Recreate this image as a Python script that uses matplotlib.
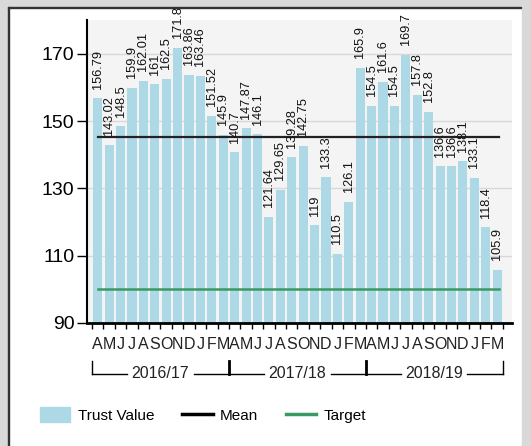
import matplotlib
matplotlib.use("Agg")
import matplotlib.pyplot as plt
import matplotlib.transforms as mtransforms
from matplotlib.patches import Patch, Rectangle
from matplotlib.lines import Line2D
import numpy as np

plt.rcParams['font.family'] = ['Liberation Sans', 'DejaVu Sans']

months = list("AMJJASONDJFM") * 3
years = ["2016/17", "2017/18", "2018/19"]
values = [156.79, 143.02, 148.5, 159.9, 162.01, 161.0, 162.5, 171.8, 163.86, 163.46, 151.52, 145.9,
          140.7, 147.87, 146.1, 121.64, 129.65, 139.28, 142.75, 119, 133.3, 110.5, 126.1, 165.9,
          154.5, 161.6, 154.5, 169.7, 157.8, 152.8, 136.6, 136.6, 138.1, 133.1, 118.4, 105.9]
target = 100
mean = np.mean(values)

W, H = 531, 446
fig = plt.figure(figsize=(W / 100, H / 100), dpi=100)

# panel frame like the original screenshot
def px_rect(x0, y0, x1, y1, color):
    fig.patches.append(Rectangle((x0 / W, 1 - y1 / H), (x1 - x0) / W, (y1 - y0) / H,
                                 transform=fig.transFigure, color=color, zorder=0))

px_rect(0, 0, W, 6, '#d9d9d9')
px_rect(0, 0, 7, H, '#d9d9d9')
px_rect(522, 0, W, H, '#d9d9d9')
px_rect(8, 7, 521, 8.2, '#333333')
px_rect(8, 7, 9.2, H, '#333333')

ax = fig.add_axes([87 / W, 1 - 323 / H, (512 - 87) / W, (323 - 20) / H])
ax.set_facecolor('#f4f4f4')

x = np.arange(len(values))
ax.bar(x, [v - 90 for v in values], bottom=90, width=0.8, color='#add8e6', zorder=2)
ax.plot([0, len(values) - 0.8], [mean, mean], color='#222222', lw=1.6, zorder=3)
ax.plot([0, len(values) - 0.8], [target, target], color='#3a9a64', lw=1.8, zorder=3)

for xi, v in zip(x, values):
    ax.annotate(f"{v:g}", (xi, v), xytext=(0, 7), textcoords='offset points',
                rotation=90, ha='center', va='bottom', fontsize=9.2, color='#111111',
                annotation_clip=False, zorder=4)

ax.set_ylim(90, 180.1)
ax.set_xlim(-0.94, 36.3)
ax.set_yticks([90, 110, 130, 150, 170])
ax.grid(axis='y', color='#d8d8d8', lw=1, zorder=1)
ax.set_axisbelow(True)

ax.set_xticks(x)
ax.set_xticklabels(months, fontsize=11.5, color='#222222')
ax.set_xticks(np.arange(-0.5, len(values) + 0.5, 1), minor=True)
ax.tick_params(axis='x', which='major', length=0, pad=10)
ax.tick_params(axis='x', which='minor', length=4, width=1, color='black')
ax.tick_params(axis='y', length=7, width=1, labelsize=14, colors='black', pad=2)

for s in ['top', 'right']:
    ax.spines[s].set_visible(False)
ax.spines['left'].set_linewidth(1.5)
ax.spines['bottom'].set_linewidth(2)

# financial year brackets under the month labels
tr = mtransforms.blended_transform_factory(ax.transData, ax.transAxes)
y_line = -(374 - 323) / (323 - 20)
y_tick = -(361 - 323) / (323 - 20)
for i, yr in enumerate(years):
    a, b = i * 12 - 0.5, i * 12 + 11.5
    c = (a + b) / 2
    ax.plot([a, c - 2.9], [y_line, y_line], color='black', lw=1, transform=tr, clip_on=False)
    ax.plot([c + 2.9, b], [y_line, y_line], color='black', lw=1, transform=tr, clip_on=False)
    ax.text(c, y_line, yr, transform=tr, ha='center', va='center', fontsize=11.5, color='#222222')
for k, bnd in enumerate([-0.5, 11.5, 23.5, 35.5]):
    lw = 1 if k in (0, 3) else 2
    ax.plot([bnd, bnd], [y_tick, y_line], color='black', lw=lw, transform=tr, clip_on=False)

handles = [Patch(color='#add8e6', label='Trust Value'),
           Line2D([], [], color='black', lw=2.5, label='Mean'),
           Line2D([], [], color='#3a9a64', lw=2.5, label='Target')]
fig.legend(handles=handles, loc='center left', bbox_to_anchor=(26 / W, 1 - 415 / H), ncol=3,
           frameon=False, fontsize=11, handlelength=2.0, handleheight=1.1,
           columnspacing=1.8, handletextpad=0.5)

fig.savefig('out.png', dpi=100)
